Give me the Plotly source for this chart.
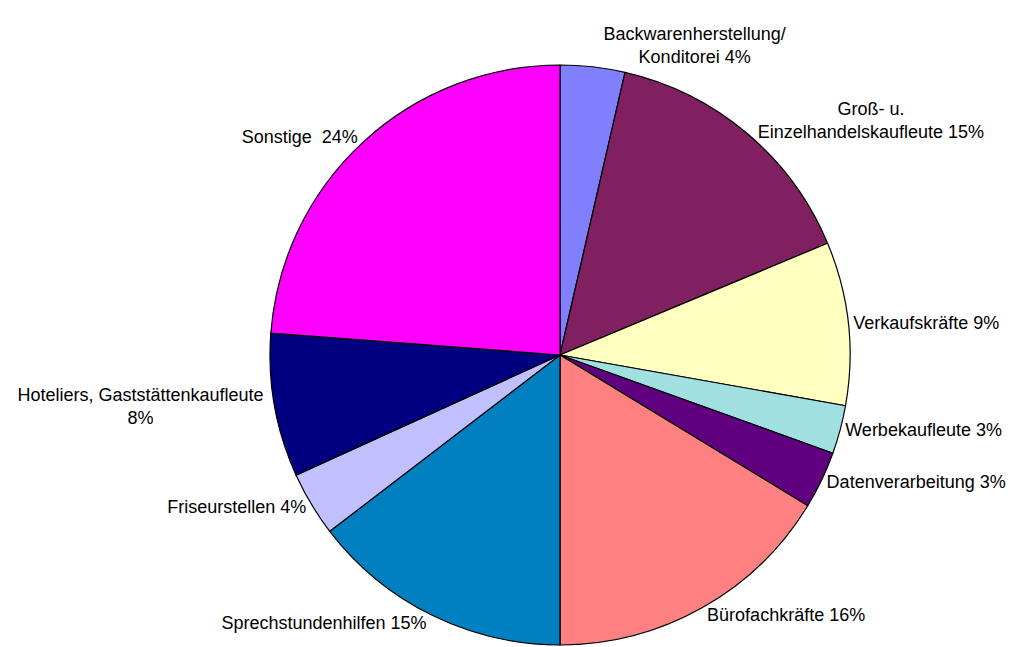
import plotly.graph_objects as go

# slices, clockwise from 12 o'clock
categories = [
    "Backwarenherstellung/Konditorei",
    "Groß- u. Einzelhandelskaufleute",
    "Verkaufskräfte",
    "Werbekaufleute",
    "Datenverarbeitung",
    "Bürofachkräfte",
    "Sprechstundenhilfen",
    "Friseurstellen",
    "Hoteliers, Gaststättenkaufleute",
    "Sonstige",
]
shares = [3.6, 15.1, 9.1, 2.7, 3.2, 16.3, 14.6, 3.6, 8.0, 23.8]
label_text = [
    "Backwarenherstellung/<br>Konditorei 4%",
    "Groß- u.<br>Einzelhandelskaufleute 15%",
    "Verkaufskräfte 9%",
    "Werbekaufleute 3%",
    "Datenverarbeitung 3%",
    "Bürofachkräfte 16%",
    "Sprechstundenhilfen 15%",
    "Friseurstellen 4%",
    "Hoteliers, Gaststättenkaufleute<br>8%",
    "Sonstige  24%",
]
colors = ["#8080FF", "#802060", "#FFFFC0", "#A0E0E0", "#600080",
          "#FF8080", "#0080C0", "#C0C0FF", "#000080", "#FF00FF"]

W, H = 1019, 647
# page body adds ~8px offset, so centre is shifted back
cx, cy, r = 552, 347, 290

FONT = dict(family="Liberation Sans, Arial", size=18, color="black")

fig = go.Figure(go.Pie(
    labels=categories,
    values=shares,
    text=label_text,
    textinfo="text",
    textposition="outside",
    sort=False,
    direction="clockwise",
    rotation=0,
    marker=dict(colors=colors, line=dict(color="black", width=1.2)),
    textfont=FONT,
    outsidetextfont=FONT,
    automargin=False,
    showlegend=False,
    hoverinfo="label+percent",
    domain=dict(x=[(cx - r) / W, (cx + r) / W], y=[1 - (cy + r) / H, 1 - (cy - r) / H]),
))

fig.update_layout(
    width=W, height=H,
    margin=dict(l=0, r=0, t=0, b=0),
    paper_bgcolor="white",
    plot_bgcolor="white",
    font=FONT,
)

fig.write_html("out.html")
